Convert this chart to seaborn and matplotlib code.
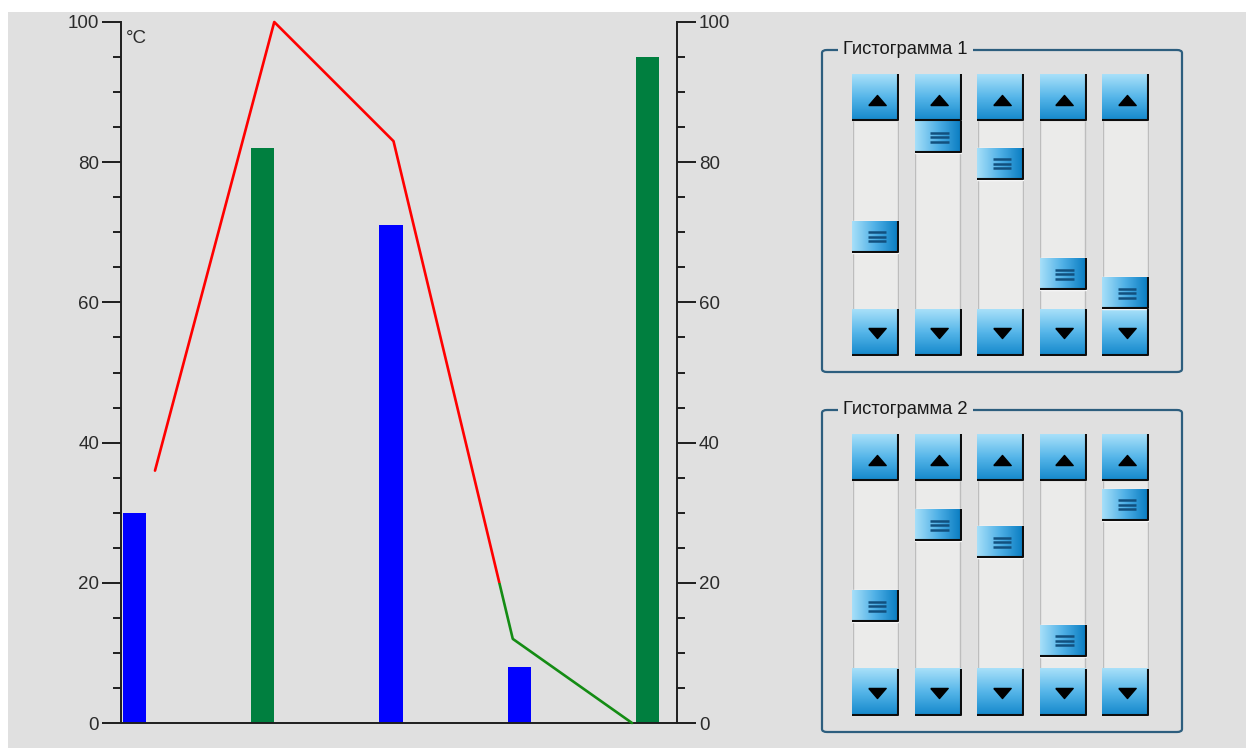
import numpy as np
import pandas as pd
import matplotlib
matplotlib.use("Agg")
import matplotlib.pyplot as plt
import seaborn as sns
from matplotlib.patches import Rectangle, FancyBboxPatch
from matplotlib.colors import LinearSegmentedColormap
from matplotlib.ticker import MultipleLocator

# Chart data
categories = ["1", "2", "3", "4", "5"]
bar_values = [30, 82, 71, 8, 95]
bar_colors = ["#0000ff", "#007f3f", "#0000ff", "#0000ff", "#007f3f"]
line_values = [36, 100, 83, 12, 0]
line_threshold = 20
unit_label = "°C"
panel_titles = ["Гистограмма 1", "Гистограмма 2"]
panel_values = [line_values, bar_values]

sns.set_theme(style="white")
plt.rcParams["font.family"] = ["Liberation Sans", "DejaVu Sans"]

W, H = 1246, 748
BG = "#e0e0e0"
INK = "#1e1e1e"


def px_rect(x0, y0, x1, y1):
    # pixel box (top-left origin) -> figure fraction rect
    return [x0 / W, 1 - y1 / H, (x1 - x0) / W, (y1 - y0) / H]


fig = plt.figure(figsize=(W / 100, H / 100), dpi=100, facecolor="white")
fig.add_artist(Rectangle((8 / W, 0), 1, 1 - 12 / H, transform=fig.transFigure,
                         facecolor=BG, edgecolor="none", zorder=-10))

# --- main chart: bars ---
ax = fig.add_axes(px_rect(121, 22, 677, 723))
ax.set_facecolor("none")
df_bars = pd.DataFrame({"cat": categories, "value": bar_values})
sns.barplot(data=df_bars, x="cat", y="value", hue="cat", palette=bar_colors,
            legend=False, width=0.18, saturation=1, linewidth=0, ax=ax)
ax.set_xlim(-0.105, 4.23)
ax.set_ylim(0, 100)
ax.set_xticks([])
ax.set_xlabel("")
ax.set_ylabel("")
ax.set_yticks(range(0, 101, 20))
ax.yaxis.set_minor_locator(MultipleLocator(5))
ax.tick_params(axis="y", which="both", direction="out", left=True, right=True,
               labelleft=True, labelright=True, color=INK, width=1.4,
               labelsize=13.5, labelcolor="#2b2b2b", pad=2)
ax.tick_params(axis="y", which="major", length=13.7)
ax.tick_params(axis="y", which="minor", length=5.8)
for side in ["left", "right", "bottom"]:
    ax.spines[side].set_visible(True)
    ax.spines[side].set_color(INK)
    ax.spines[side].set_linewidth(1.4)
ax.spines["top"].set_visible(False)
ax.text(0.008, 0.988, unit_label, transform=ax.transAxes, ha="left", va="top",
        fontsize=13.5, color="#2b2b2b")

# --- main chart: threshold-coloured line ---
axl = fig.add_axes(px_rect(121, 22, 677, 723))
axl.set_facecolor("none")
df_line = pd.DataFrame({"pos": range(len(line_values)), "value": line_values})
for color, lo, hi in [("#ff0000", line_threshold, 300), ("#148c14", -300, line_threshold)]:
    sns.lineplot(data=df_line, x="pos", y="value", color=color, lw=1.9, ax=axl)
    axl.lines[-1].set_clip_path(Rectangle((-10, lo), 20, hi - lo, transform=axl.transData))
axl.set_xlim(-0.285, 4.377)
axl.set_ylim(0, 100)
axl.axis("off")

# --- scrollbar panels ---
K = 100 / 156          # value units per pixel along a track
THUMB = 32 * K
BTN = 47 * K
btn_cmap = LinearSegmentedColormap.from_list("btn", ["#a8e0f9", "#56b6e9", "#1689cc"])
thumb_cmap = LinearSegmentedColormap.from_list("thumb", ["#a6dff9", "#4fb0e6", "#0a7dc2"])
vgrad = np.linspace(0, 1, 64).reshape(-1, 1)
hgrad = np.linspace(0, 1, 64).reshape(1, -1)
up_marker = [(-1, -0.58), (1, -0.58), (0, 0.58), (-1, -0.58)]
down_marker = [(-1, 0.58), (1, 0.58), (0, -0.58), (-1, 0.58)]


def scrollbar(x0, y0, value):
    sax = fig.add_axes(px_rect(x0, y0, x0 + 47, y0 + 282))
    sax.axis("off")
    # track
    sax.add_patch(Rectangle((0, -THUMB), 46, 100 + THUMB, facecolor="#ebebea",
                            edgecolor="none", zorder=1))
    sax.vlines([0.5, 45.5], -THUMB, 100, color="#bdbdbd", lw=1, zorder=1)
    # arrow buttons
    for bottom, marker, dy in [(100, up_marker, -2 * K), (-THUMB - BTN, down_marker, 0)]:
        sax.imshow(vgrad, cmap=btn_cmap, extent=(0, 45.5, bottom + K, bottom + BTN),
                   aspect="auto", zorder=2)
        sax.plot([46, 46, 0], [bottom + BTN, bottom + K, bottom + K], color="#0d0d0d",
                 lw=1.5, zorder=3, solid_capstyle="butt")
        sax.plot(24.5, bottom + BTN / 2 + dy, marker=marker, ms=12.5, color="black",
                 mec="black", zorder=4)
    # thumb, positioned by the value
    thumb = sax.bar(23, THUMB, width=46, bottom=value - THUMB, color="none", zorder=2)[0]
    im = sax.imshow(hgrad, cmap=thumb_cmap, extent=(0, 46, -THUMB - BTN, 100 + BTN),
                    aspect="auto", zorder=2)
    im.set_clip_path(thumb)
    sax.plot([46, 46, 0], [value, value - THUMB + K, value - THUMB + K], color="#0d0d0d",
             lw=1.5, zorder=3, solid_capstyle="butt")
    mid = value - THUMB / 2
    sax.hlines([mid + 4.5 * K, mid, mid - 4.5 * K], 15.5, 34, color="#12507e", lw=1.8, zorder=4)
    sax.set_xlim(0, 47)
    sax.set_ylim(-THUMB - BTN, 100 + BTN)


for p, (title, values) in enumerate(zip(panel_titles, panel_values)):
    oy = 360 * p
    box = FancyBboxPatch((822 / W, 1 - (372 + oy) / H), 360 / W, 322 / H,
                         boxstyle="round,pad=0,rounding_size=0.004", transform=fig.transFigure,
                         facecolor="none", edgecolor="#2d5e7e", lw=1.6)
    fig.add_artist(box)
    fig.text(843 / W, 1 - (50 + oy) / H, title, ha="left", va="center", fontsize=13.2,
             color="#1a1a1a",
             bbox=dict(facecolor=BG, edgecolor="none", boxstyle="square,pad=0.3"))
    for i, v in enumerate(values):
        scrollbar(852 + 62.5 * i, 74 + oy, v)

fig.savefig("out.png", dpi=100, facecolor=fig.get_facecolor())
